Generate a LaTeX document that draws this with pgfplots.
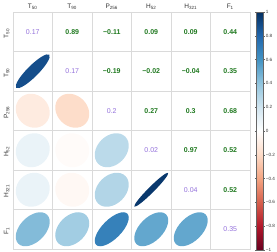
\documentclass[border=0pt]{standalone}
\usepackage{fontspec}
\setmainfont{Liberation Sans}
\usepackage{pgfplots}
\pgfplotsset{compat=1.18}
\definecolor{txtpurple}{RGB}{147,112,219}
\definecolor{txtgreen}{RGB}{30,120,30}
\definecolor{gridgray}{RGB}{218,218,218}
\def\ellS{17}
\pgfdeclareplotmark{corrEll}{%
  \pgfmathsetmacro\ea{\ellS*sqrt(1+\corrr)}%
  \pgfmathsetmacro\eb{\ellS*sqrt(max(1-\corrr,0.0001))}%
  \pgfpathellipse{\pgfpointorigin}{\pgfpointpolar{45}{\ea pt}}{\pgfpointpolar{135}{\eb pt}}%
  \pgfusepathqfill
}
\begin{document}
\begin{tikzpicture}
\begin{axis}[
  name=ax,
  scale only axis, width=237pt, height=237pt,
  xmin=0.5, xmax=6.5, ymin=0.5, ymax=6.5, y dir=reverse,
  axis line style={gridgray, line width=0.7pt},
  xtick={1,...,6}, ytick={1,...,6},
  xticklabels={T\textsubscript{50},T\textsubscript{90},P\textsubscript{256},H\textsubscript{52},H\textsubscript{321},F\textsubscript{1}},
  yticklabels={T\textsubscript{50},T\textsubscript{90},P\textsubscript{256},H\textsubscript{52},H\textsubscript{321},F\textsubscript{1}},
  xticklabel pos=upper,
  major tick length=0pt,
  minor xtick={1.5,2.5,...,5.5}, minor ytick={1.5,2.5,...,5.5},
  minor tick length=0pt,
  xminorgrids, yminorgrids,
  minor grid style={gridgray, line width=0.7pt},
  x tick label style={font=\fontsize{6.5}{7}\selectfont, text=black!80, yshift=-1.5pt},
  y tick label style={font=\fontsize{6.5}{7}\selectfont, text=black!80, rotate=90, anchor=south, xshift=-1.5pt},
  clip=false,
  colormap={RdBu}{rgb255=(103,0,31) rgb255=(178,24,43) rgb255=(214,96,77) rgb255=(244,165,130) rgb255=(253,219,199) rgb255=(255,255,255) rgb255=(209,229,240) rgb255=(146,197,222) rgb255=(67,147,195) rgb255=(33,102,172) rgb255=(5,48,97)},
  point meta min=-1, point meta max=1,
  colorbar,
  colorbar style={
    at={(parent axis.north east)}, anchor=north west, xshift=-2pt,
    scale only axis, width=6.5pt, height=238pt,
    axis line style={black!60, line width=0.4pt},
    ytick={-1,-0.8,-0.6,-0.4,-0.2,0,0.2,0.4,0.6,0.8,1},
    yticklabels={−1,−0.8,−0.6,−0.4,−0.2,0,0.2,0.4,0.6,0.8,1},
    yticklabel pos=right,
    major tick length=1.5pt,
    tick style={black!60, line width=0.3pt},
    tick align=outside,
    y tick label style={font=\fontsize{4.6}{5}\selectfont, text=black!80, inner sep=0.6pt, xshift=0.5pt},
  },
]
% lower triangle: ellipses
\addplot[scatter, only marks, mark=corrEll,
  point meta=\thisrow{r},
  visualization depends on={\thisrow{r} \as \corrr},
  scatter/use mapped color={draw=none, fill=mapped color}]
  table[x=x, y=y] {
x y r
1 2 0.89
1 3 -0.11
2 3 -0.19
1 4 0.09
2 4 -0.02
3 4 0.27
1 5 0.09
2 5 -0.04
3 5 0.30
4 5 0.97
1 6 0.44
2 6 0.35
3 6 0.68
4 6 0.52
5 6 0.52
};
% upper triangle: values
\addplot[draw=none, mark=none, point meta=explicit symbolic,
  nodes near coords, nodes near coords align={center},
  nodes near coords style={text=txtgreen, font=\fontsize{7}{7}\selectfont\bfseries, anchor=center}]
  table[x=x, y=y, meta=l] {
x y l
2 1 0.89
3 1 −0.11
4 1 0.09
5 1 0.09
6 1 0.44
3 2 −0.19
4 2 −0.02
5 2 −0.04
6 2 0.35
4 3 0.27
5 3 0.3
6 3 0.68
5 4 0.97
6 4 0.52
6 5 0.52
};
% diagonal
\addplot[draw=none, mark=none, point meta=explicit symbolic,
  nodes near coords, nodes near coords align={center},
  nodes near coords style={text=txtpurple, font=\fontsize{7}{7}\selectfont, anchor=center}]
  table[x=x, y=y, meta=l] {
x y l
1 1 0.17
2 2 0.17
3 3 0.2
4 4 0.02
5 5 0.04
6 6 0.35
};
\end{axis}
\pgfresetboundingbox
\useasboundingbox ([shift={(-13pt,-3pt)}]ax.south west) rectangle ([shift={(27pt,12pt)}]ax.north east);
\end{tikzpicture}
\end{document}
